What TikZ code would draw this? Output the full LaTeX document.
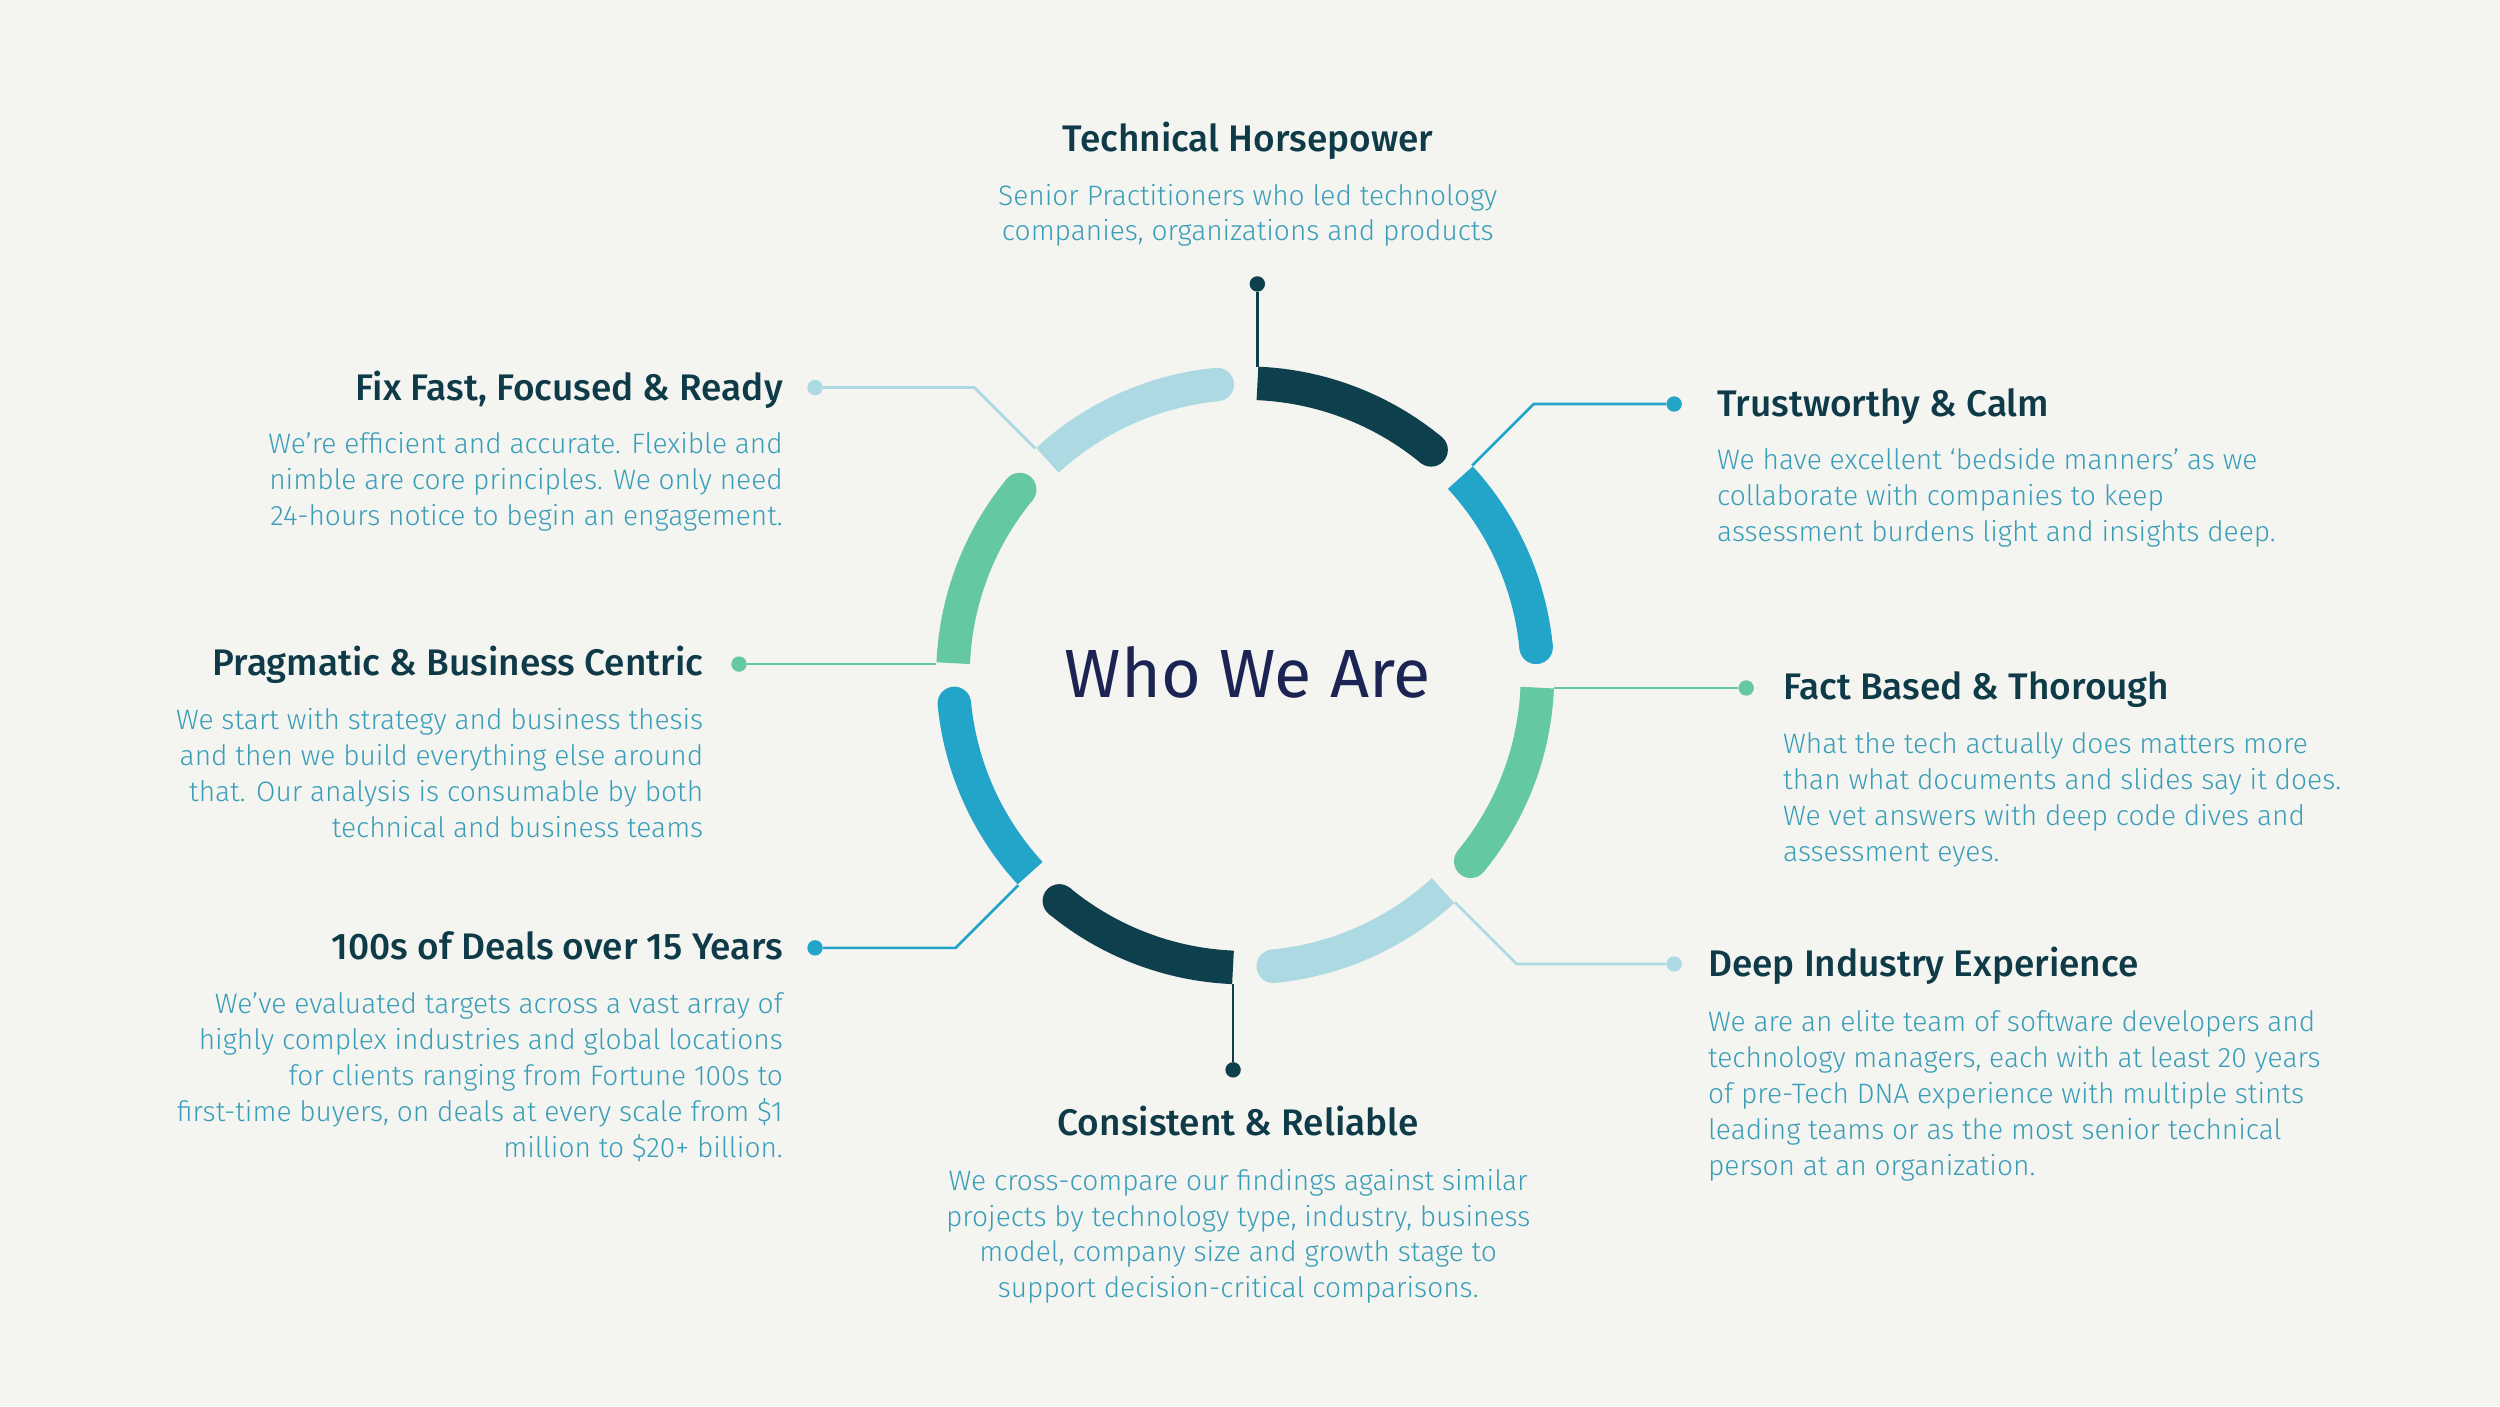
\documentclass[tikz,border=0pt]{standalone}
\usepackage{fontspec}
\newfontfamily\headfont{Fira Sans Medium}
\newfontfamily\bodyfont{Fira Sans Light}
\newfontfamily\bigfont{Fira Sans}
\definecolor{bg}{HTML}{F4F4F1}
\definecolor{headc}{HTML}{0E3B47}
\definecolor{bodyc}{HTML}{3A9EB8}
\definecolor{cnavy}{HTML}{1B2452}
\definecolor{cdark}{HTML}{0D3F4C}
\definecolor{cblue}{HTML}{23A4C9}
\definecolor{cgreen}{HTML}{64C8A0}
\definecolor{clight}{HTML}{ADD9E2}
\begin{document}
\begin{tikzpicture}[x=1.5944pt,y=-1.5944pt,
  head/.style={font=\headfont\fontsize{37}{44}\selectfont, text=headc, inner sep=0pt},
  body/.style={font=\bodyfont\fontsize{28.1}{35.9}\selectfont, text=bodyc, inner sep=0pt},
  segarc/.style={line width=33.5pt, line cap=butt},
  conn/.style={line width=2.7pt},
  dotn/.style={circle, inner sep=0pt, minimum size=15.4pt}]
\useasboundingbox (0,0) rectangle (1568,882);
\fill[bg] (0,0) rectangle (1568,882);

% connectors
\coordinate (aN) at (788.6,230);
\node[dotn, fill=cdark] (dN) at (788.6,178.1) {};
\draw[conn, cdark] (dN) -- (aN);

\coordinate (aNE) at (923.3,292.0);
\coordinate (eNE) at (961.9,253.4);
\node[dotn, fill=cblue] (dNE) at (1050,253.4) {};
\draw[conn, cblue] (dNE) -- (eNE) -- (aNE);

\coordinate (aE) at (974.65,431.5);
\node[dotn, fill=cgreen] (dE) at (1095.2,431.5) {};
\draw[conn, cgreen] (dE) -- (aE);

\coordinate (aSE) at (912.56,565.9);
\coordinate (eSE) at (951.25,604.6);
\node[dotn, fill=clight] (dSE) at (1050,604.6) {};
\draw[conn, clight] (dSE) -- (eSE) -- (aSE);

\coordinate (aS) at (773.4,617.25);
\node[dotn, fill=cdark] (dS) at (773.4,671) {};
\draw[conn, cdark] (dS) -- (aS);

\coordinate (aSW) at (638.7,555.2);
\coordinate (eSW) at (599.4,594.5);
\node[dotn, fill=cblue] (dSW) at (511.2,594.5) {};
\draw[conn, cblue] (dSW) -- (eSW) -- (aSW);

\coordinate (aW) at (587.35,416.5);
\node[dotn, fill=cgreen] (dW) at (463.5,416.5) {};
\draw[conn, cgreen] (dW) -- (aW);

\coordinate (aNW) at (649.4,281.3);
\coordinate (eNW) at (611.2,243.1);
\node[dotn, fill=clight] (dNW) at (511.2,243.1) {};
\draw[conn, clight] (dNW) -- (eNW) -- (aNW);

% ring
\begin{scope}[shift={(781,423.6)}, yscale=-1]
  \foreach \t/\c in {90/cdark,45/cblue,0/cgreen,-45/clight,-90/cdark,-135/cblue,180/cgreen,135/clight}{
    \draw[segarc, draw=\c] (\t-2.4:183.3) arc[start angle=\t-2.4, end angle=\t-39.5, radius=183.3];
    \fill[\c] (\t-39.5:183.3) circle (10.5);
  }
\end{scope}

\node[font=\bigfont\fontsize{68.2}{68}\selectfont, text=cnavy, anchor=base, inner sep=0pt] (who) at (782.6,437.4) {Who We Are};

% texts (body nodes: base anchor = baseline of last line)
\node[head, anchor=base] (hTH) at (782.6,95.1) {Technical Horsepower};
\node[body, anchor=base, align=center] (bTH) at (782.6,151.1) {Senior Practitioners who led technology\\companies, organizations and products};

\node[head, anchor=base west] (hTC) at (1076.9,261.3) {Trustworthy \& Calm};
\node[body, anchor=base west, align=left] (bTC) at (1076.9,339.8) {We have excellent ‘bedside manners’ as we\\collaborate with companies to keep\\assessment burdens light and insights deep.};

\node[head, anchor=base west] (hFB) at (1118.3,438.6) {Fact Based \& Thorough};
\node[body, anchor=base west, align=left] (bFB) at (1118.3,540.1) {What the tech actually does matters more\\than what documents and slides say it does.\\We vet answers with deep code dives and\\assessment eyes.};

\node[head, anchor=base west] (hDI) at (1071.2,612.6) {Deep Industry Experience};
\node[body, anchor=base west, align=left] (bDI) at (1071.2,737.2) {We are an elite team of software developers and\\technology managers, each with at least 20 years\\of pre-Tech DNA experience with multiple stints\\leading teams or as the most senior technical\\person at an organization.};

\node[head, anchor=base] (hCR) at (776.6,711.9) {Consistent \& Reliable};
\node[body, anchor=base, align=center] (bCR) at (776.6,814.0) {We cross-compare our findings against similar\\projects by technology type, industry, business\\model, company size and growth stage to\\support decision-critical comparisons.};

\node[head, anchor=base east] (hDL) at (491.1,602.1) {100s of Deals over 15 Years};
\node[body, anchor=base east, align=right] (bDL) at (491.1,725.7) {We’ve evaluated targets across a vast array of\\highly complex industries and global locations\\for clients ranging from Fortune 100s to\\first-time buyers, on deals at every scale from \$1\\million to \$20+ billion.};

\node[head, anchor=base east] (hPB) at (441.2,423.4) {Pragmatic \& Business Centric};
\node[body, anchor=base east, align=right] (bPB) at (441.2,525.0) {We start with strategy and business thesis\\and then we build everything else around\\that. Our analysis is consumable by both\\technical and business teams};

\node[head, anchor=base east] (hFF) at (491.1,250.9) {Fix Fast, Focused \& Ready};
\node[body, anchor=base east, align=right] (bFF) at (491.1,329.3) {We’re efficient and accurate. Flexible and\\nimble are core principles. We only need\\24-hours notice to begin an engagement.};
\end{tikzpicture}
\end{document}
